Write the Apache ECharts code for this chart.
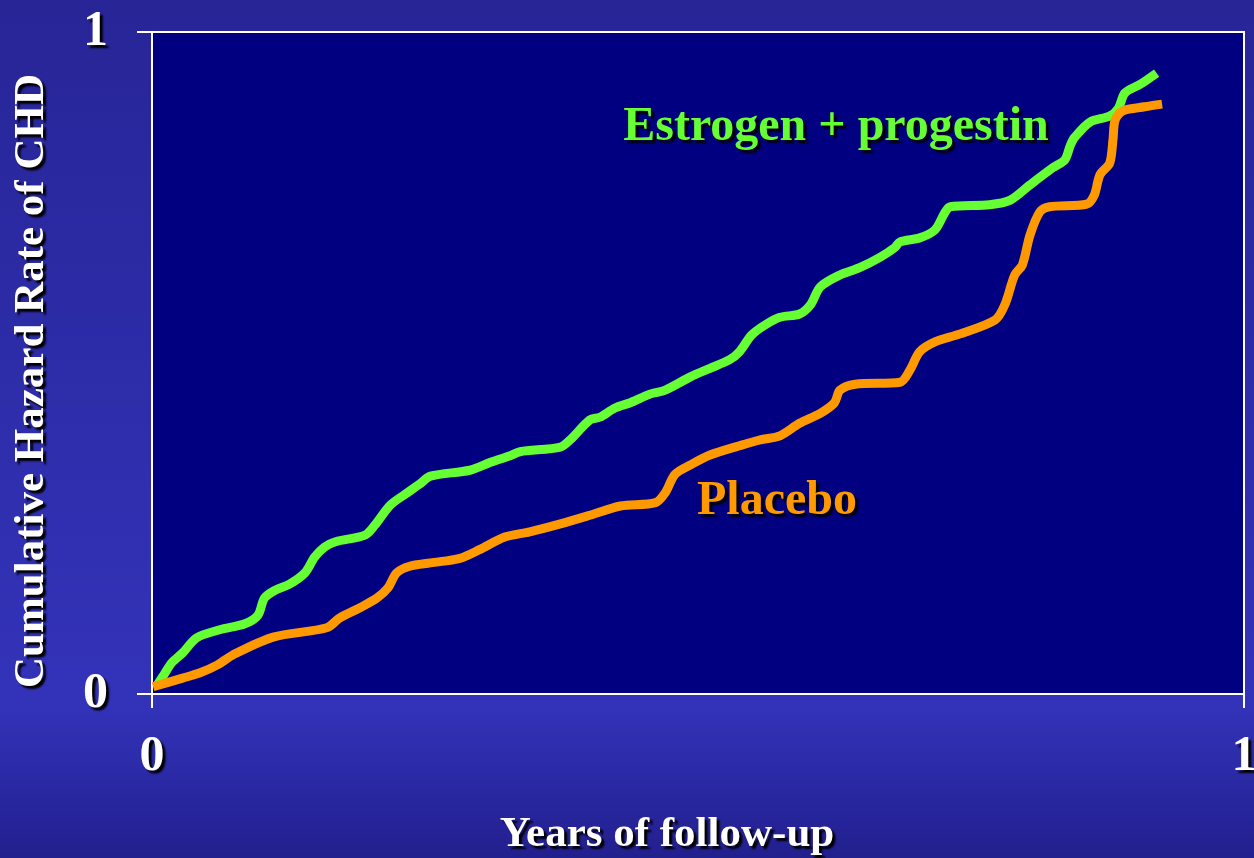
<!DOCTYPE html>
<html>
<head>
<meta charset="utf-8">
<style>
  html, body { margin: 0; padding: 0; }
  #chart { width: 1254px; height: 858px; }
</style>
<script src="https://cdn.jsdelivr.net/npm/echarts@6/dist/echarts.min.js"></script>
</head>
<body>
<div id="chart"></div>
<script>
// Years of follow-up (scaled 0..1) and cumulative hazard (scaled 0..1)
const estrogenX = [0.005,0.012,0.018,0.028,0.041,0.062,0.085,0.097,0.103,0.113,0.126,0.140,0.149,0.158,0.168,0.195,0.204,0.218,0.232,0.245,0.255,0.291,0.310,0.328,0.337,0.374,0.383,0.401,0.410,0.424,0.438,0.456,0.470,0.493,0.511,0.529,0.538,0.549,0.561,0.575,0.593,0.603,0.612,0.630,0.648,0.667,0.680,0.685,0.703,0.717,0.726,0.731,0.767,0.786,0.804,0.825,0.836,0.841,0.845,0.859,0.877,0.885,0.891,0.905,0.920];
const estrogenY = [0.014,0.032,0.047,0.062,0.085,0.097,0.106,0.119,0.145,0.157,0.166,0.183,0.207,0.222,0.230,0.240,0.255,0.285,0.302,0.317,0.329,0.338,0.350,0.360,0.366,0.373,0.384,0.414,0.418,0.432,0.440,0.453,0.459,0.479,0.492,0.505,0.517,0.542,0.557,0.569,0.574,0.588,0.615,0.633,0.644,0.660,0.674,0.683,0.689,0.701,0.727,0.736,0.739,0.746,0.769,0.795,0.807,0.829,0.841,0.864,0.873,0.885,0.908,0.921,0.938];
const placeboX = [0.001,0.028,0.044,0.060,0.074,0.111,0.160,0.172,0.190,0.206,0.216,0.224,0.236,0.255,0.282,0.300,0.323,0.346,0.374,0.401,0.429,0.461,0.470,0.479,0.493,0.511,0.538,0.557,0.575,0.593,0.612,0.625,0.630,0.644,0.685,0.694,0.703,0.717,0.740,0.772,0.781,0.790,0.797,0.804,0.813,0.822,0.856,0.863,0.868,0.877,0.880,0.882,0.889,0.909,0.925];
const placeboY = [0.011,0.024,0.032,0.044,0.059,0.086,0.100,0.115,0.130,0.145,0.160,0.183,0.193,0.198,0.205,0.218,0.237,0.245,0.257,0.270,0.284,0.289,0.304,0.332,0.346,0.361,0.375,0.384,0.390,0.409,0.424,0.440,0.459,0.468,0.471,0.489,0.517,0.532,0.544,0.565,0.588,0.633,0.648,0.693,0.728,0.736,0.740,0.754,0.784,0.802,0.837,0.867,0.881,0.887,0.891];
const xTickLabels = ['0', '1'];
const yTickLabels = ['0', '1'];
const seriesNames = ['Estrogen + progestin', 'Placebo'];
const xTitle = 'Years of follow-up';
const yTitle = 'Cumulative Hazard Rate of CHD';

const font = "'Liberation Serif', 'Times New Roman', serif";
const shadow = { textShadowColor: '#000', textShadowBlur: 2, textShadowOffsetX: 3, textShadowOffsetY: 3 };

const chart = echarts.init(document.getElementById('chart'), null, { renderer: 'canvas' });
chart.setOption({
  backgroundColor: {
    type: 'linear', x: 0, y: 0, x2: 0, y2: 1,
    colorStops: [
      { offset: 0, color: '#272596' },
      { offset: 0.82, color: '#3333ba' },
      { offset: 1, color: '#221f8e' }
    ]
  },
  animation: false,
  grid: {
    left: 152, right: 10, top: 32, bottom: 164,
    outerBoundsMode: 'none', containLabel: false,
    show: true, backgroundColor: '#000080', borderColor: '#ffffff', borderWidth: 2
  },
  xAxis: {
    type: 'value', min: 0, max: 1, interval: 1,
    axisLine: { show: true, lineStyle: { color: '#fff', width: 2 } },
    axisTick: { show: true, length: 14, lineStyle: { color: '#fff', width: 2 } },
    splitLine: { show: false },
    axisLabel: {
      color: '#fff', fontFamily: font, fontWeight: 'bold', fontSize: 50, margin: 38,
      formatter: v => xTickLabels[Math.round(v)], ...shadow
    }
  },
  yAxis: {
    type: 'value', min: 0, max: 1, interval: 1,
    axisLine: { show: true, lineStyle: { color: '#fff', width: 2 } },
    axisTick: { show: true, length: 15, lineStyle: { color: '#fff', width: 2 } },
    splitLine: { show: false },
    axisLabel: {
      color: '#fff', fontFamily: font, fontWeight: 'bold', fontSize: 50, margin: 44,
      formatter: v => yTickLabels[Math.round(v)], ...shadow
    }
  },
  series: [
    {
      name: seriesNames[0], type: 'line', smooth: 0.3, symbol: 'none',
      lineStyle: { color: '#66ff33', width: 9 },
      data: estrogenX.map((x, i) => [x, estrogenY[i]])
    },
    {
      name: seriesNames[1], type: 'line', smooth: 0.3, symbol: 'none',
      lineStyle: { color: '#ff9900', width: 9 },
      data: placeboX.map((x, i) => [x, placeboY[i]])
    }
  ],
  graphic: [
    {
      type: 'text', x: 836, y: 128, z: 100,
      style: { text: seriesNames[0], fill: '#66ff33', font: "bold 48px " + font, textAlign: 'center', textVerticalAlign: 'middle', ...shadow }
    },
    {
      type: 'text', x: 777, y: 502, z: 100,
      style: { text: seriesNames[1], fill: '#ff9900', font: "bold 48px " + font, textAlign: 'center', textVerticalAlign: 'middle', ...shadow }
    },
    {
      type: 'text', x: 667, y: 835, z: 100,
      style: { text: xTitle, fill: '#fff', font: "bold 43px " + font, textAlign: 'center', textVerticalAlign: 'middle', ...shadow }
    },
    {
      type: 'text', x: 32, y: 381, rotation: Math.PI / 2, z: 100,
      style: { text: yTitle, fill: '#fff', font: "bold 43px " + font, textAlign: 'center', textVerticalAlign: 'middle', ...shadow }
    }
  ]
});
</script>
</body>
</html>
